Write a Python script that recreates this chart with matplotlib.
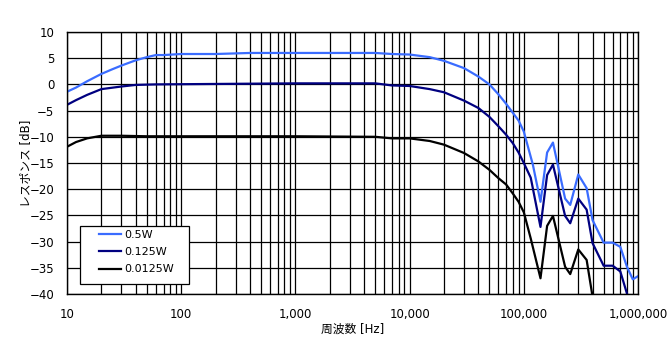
import numpy as np
import matplotlib.pyplot as plt
from matplotlib.patches import Rectangle
from matplotlib.ticker import FuncFormatter, LogLocator, MultipleLocator

plt.rcParams['font.family'] = ['DejaVu Sans', 'Noto Sans CJK JP']

# frequency [Hz] and response [dB] for each power level
freq_05 = [10, 12, 15, 20, 25, 30, 40, 50, 60, 70, 100, 200, 400, 1000, 2000, 5000, 7000,
           10e3, 15e3, 20e3, 30e3, 40e3, 50e3, 60e3, 70e3, 80e3, 90e3, 100e3, 120e3, 140e3,
           160e3, 180e3, 230e3, 255e3, 300e3, 355e3, 400e3, 500e3, 600e3, 700e3, 800e3, 900e3, 1e6]
resp_05 = [-1.4, -0.6, 0.6, 2.0, 2.9, 3.6, 4.6, 5.2, 5.6, 5.6, 5.8, 5.8, 6.0, 6.0, 6.0, 6.0, 5.8,
           5.7, 5.2, 4.5, 3.1, 1.5, 0.0, -1.9, -3.7, -5.4, -6.9, -9.0, -15.3, -22.4,
           -13.0, -11.1, -21.8, -23.0, -17.2, -19.8, -25.9, -30.2, -30.2, -31.0, -34.8, -37.2, -36.6]

freq_0125 = [10, 12, 15, 20, 30, 40, 60, 1000, 5000, 7000, 10e3, 15e3, 20e3, 30e3, 40e3, 50e3,
             60e3, 70e3, 80e3, 90e3, 100e3, 115e3, 140e3, 160e3, 180e3, 230e3, 255e3, 300e3,
             355e3, 400e3, 500e3, 600e3, 700e3, 800e3, 900e3, 1e6]
resp_0125 = [-3.9, -3.0, -2.0, -0.9, -0.4, -0.1, 0.0, 0.2, 0.2, -0.2, -0.3, -0.9, -1.5, -3.1, -4.5, -6.2,
             -8.0, -9.6, -11.2, -13.0, -15.0, -17.8, -27.2, -17.3, -15.3, -25.1, -26.5, -21.8,
             -23.9, -30.3, -34.6, -34.6, -35.7, -39.9, -44.0, -47.0]

freq_00125 = [10, 12, 15, 20, 30, 50, 1000, 5000, 7000, 10e3, 15e3, 20e3, 30e3, 40e3, 50e3,
              60e3, 70e3, 80e3, 90e3, 100e3, 115e3, 140e3, 160e3, 180e3, 230e3, 255e3, 300e3,
              355e3, 400e3, 500e3]
resp_00125 = [-11.9, -11.0, -10.3, -9.8, -9.8, -9.9, -9.9, -10.0, -10.3, -10.3, -10.8, -11.5, -13.1, -14.7, -16.3,
              -17.9, -19.1, -20.8, -22.4, -24.4, -29.4, -37.0, -27.0, -25.1, -34.8, -36.2, -31.5,
              -33.5, -40.5, -46.0]

W, H = 672, 356
fig = plt.figure(figsize=(W / 100, H / 100), dpi=100)
ax = fig.add_axes([67 / W, 1 - 294 / H, 571 / W, 262 / H])

ax.plot(freq_05, resp_05, color='#3a6cff', lw=1.6, label='0.5W')
ax.plot(freq_0125, resp_0125, color='#000080', lw=1.6, label='0.125W')
ax.plot(freq_00125, resp_00125, color='black', lw=1.6, label='0.0125W')

ax.set_xscale('log')
ax.set_xlim(10, 1e6)
ax.set_ylim(-40, 10)
ax.yaxis.set_major_locator(MultipleLocator(5))
ax.xaxis.set_major_locator(LogLocator(base=10, numticks=10))
ax.xaxis.set_minor_locator(LogLocator(base=10, subs=np.arange(2, 10), numticks=100))
ax.xaxis.set_major_formatter(FuncFormatter(lambda v, p: f'{int(round(v)):,}'))
ax.xaxis.set_minor_formatter(FuncFormatter(lambda v, p: ''))
ax.tick_params(which='both', length=0, labelsize=8.5)
ax.tick_params(axis='x', pad=10)
ax.tick_params(axis='y', pad=9)

ax.grid(which='major', color='black', lw=0.9)
ax.grid(which='minor', axis='x', color='black', lw=0.9)
for s in ax.spines.values():
    s.set_linewidth(1.0)

ax.set_xlabel('周波数 [Hz]', fontsize=8.5)
ax.set_ylabel('レスポンス [dB]', fontsize=8.5)
ax.xaxis.set_label_coords(0.5, -29 / 262)
ax.yaxis.set_label_coords(-35 / 571, 0.5)

# legend box drawn separately so the padding can match
box = Rectangle((13 / 571, 10 / 262), 109 / 571, 58 / 262, transform=ax.transAxes,
                facecolor='white', edgecolor='black', lw=0.9, zorder=5)
ax.add_patch(box)
leg = ax.legend(loc='upper left', bbox_to_anchor=(32 / 571, 64 / 262), borderaxespad=0,
                frameon=False, fontsize=8, handlelength=2.0, handletextpad=0.3,
                labelspacing=0.65, borderpad=0)
leg.set_zorder(6)

fig.savefig('out.png', dpi=100)
